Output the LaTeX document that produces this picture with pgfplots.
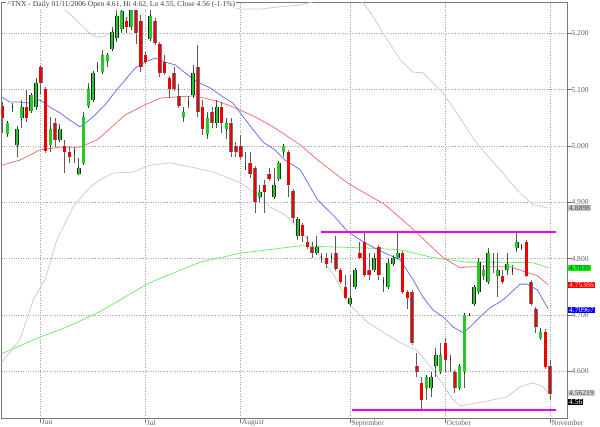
\documentclass[border=0pt]{standalone}
\usepackage{fontspec}
\setmainfont{Liberation Serif}
\usepackage{pgfplots}
\usepackage{pgfplotstable}
\pgfplotsset{compat=1.18}

\definecolor{upgreen}{RGB}{40,200,40}
\definecolor{downred}{RGB}{240,0,0}
\definecolor{wick}{RGB}{90,90,90}
\definecolor{ma20}{RGB}{110,110,255}
\definecolor{ma50}{RGB}{255,110,110}
\definecolor{ma200}{RGB}{110,240,110}
\definecolor{band}{RGB}{205,205,205}
\definecolor{level}{RGB}{240,0,240}
\definecolor{frame}{RGB}{120,120,120}
\definecolor{gridc}{RGB}{165,165,165}
\definecolor{lbl}{RGB}{100,100,100}
\newcommand\lab{\fontsize{7.6}{8}\selectfont}

% green (and doji) days: i open high low close
\pgfplotstableread{
i o h l c
1 5.021 5.044 5.016 5.041
2 5.069 5.076 5.060 5.069
3 5.002 5.036 4.981 5.030
4 5.050 5.082 5.032 5.069
6 5.062 5.094 5.060 5.091
7 5.069 5.121 5.064 5.112
10 5.002 5.052 4.989 5.030
12 5.011 5.039 5.009 5.030
15 4.989 4.998 4.970 4.989
16 4.951 4.979 4.949 4.961
17 4.970 5.060 4.970 5.052
18 5.071 5.112 5.069 5.101
19 5.082 5.131 5.082 5.130
20 5.140 5.149 5.131 5.140
21 5.131 5.170 5.131 5.161
22 5.151 5.161 5.140 5.161
23 5.172 5.211 5.172 5.202
24 5.192 5.241 5.185 5.231
25 5.208 5.245 5.200 5.239
27 5.211 5.245 5.206 5.241
31 5.190 5.241 5.188 5.231
38 5.052 5.069 5.043 5.060
39 5.076 5.089 5.068 5.076
40 5.091 5.144 5.085 5.130
43 5.021 5.060 5.013 5.050
45 5.041 5.082 5.032 5.069
47 5.030 5.050 5.013 5.041
51 4.961 4.989 4.958 4.961
54 4.910 4.931 4.901 4.919
57 4.910 4.961 4.910 4.931
58 4.942 4.970 4.940 4.970
59 4.989 5.000 4.981 5.000
62 4.841 4.871 4.833 4.871
66 4.810 4.841 4.810 4.821
67 4.802 4.810 4.793 4.802
69 4.802 4.810 4.793 4.802
73 4.720 4.771 4.720 4.731
74 4.750 4.780 4.750 4.780
78 4.780 4.810 4.780 4.802
80 4.759 4.768 4.741 4.759
81 4.750 4.802 4.748 4.793
82 4.791 4.807 4.787 4.802
83 4.802 4.849 4.802 4.810
89 4.571 4.591 4.550 4.591
90 4.571 4.599 4.555 4.591
91 4.610 4.642 4.591 4.630
92 4.599 4.651 4.599 4.630
94 4.621 4.630 4.599 4.621
96 4.571 4.610 4.571 4.610
97 4.599 4.701 4.571 4.701
98 4.701 4.702 4.699 4.701
99 4.720 4.750 4.720 4.750
100 4.741 4.802 4.741 4.794
101 4.770 4.789 4.763 4.780
102 4.759 4.819 4.759 4.810
103 4.793 4.810 4.775 4.793
104 4.770 4.810 4.732 4.780
106 4.780 4.810 4.771 4.791
107 4.780 4.789 4.771 4.780
108 4.819 4.849 4.812 4.830
109 4.821 4.826 4.816 4.821
113 4.660 4.677 4.656 4.670
}\upc

% red days
\pgfplotstableread{
i o h l c
0 5.071 5.078 5.023 5.050
5 5.069 5.099 5.043 5.050
8 5.140 5.144 5.092 5.112
9 5.101 5.101 4.989 4.991
11 5.041 5.050 4.998 5.011
13 5.000 5.011 4.952 4.989
14 4.989 4.998 4.970 4.981
26 5.222 5.229 5.200 5.211
28 5.241 5.245 5.181 5.200
29 5.222 5.232 5.131 5.140
30 5.161 5.167 5.149 5.149
32 5.222 5.227 5.179 5.183
33 5.181 5.181 5.122 5.130
34 5.149 5.161 5.130 5.130
35 5.121 5.121 5.085 5.101
36 5.130 5.140 5.099 5.101
37 5.089 5.110 5.069 5.071
41 5.140 5.179 5.052 5.060
42 5.069 5.082 5.020 5.030
44 5.060 5.069 5.032 5.041
46 5.069 5.078 5.023 5.041
48 5.041 5.050 4.981 4.989
49 5.000 5.007 4.981 4.989
50 5.000 5.020 4.981 4.981
52 4.970 4.989 4.943 4.951
53 4.961 4.961 4.881 4.901
55 4.931 4.940 4.881 4.919
56 4.951 4.961 4.940 4.942
60 4.989 4.989 4.910 4.931
61 4.920 4.920 4.864 4.872
63 4.860 4.860 4.830 4.841
64 4.830 4.841 4.821 4.821
65 4.821 4.830 4.802 4.810
68 4.802 4.810 4.784 4.791
70 4.810 4.841 4.780 4.782
71 4.780 4.780 4.759 4.759
72 4.750 4.771 4.731 4.731
75 4.810 4.830 4.802 4.802
76 4.830 4.849 4.771 4.771
77 4.780 4.810 4.763 4.771
79 4.821 4.821 4.763 4.771
84 4.810 4.810 4.741 4.741
85 4.741 4.741 4.711 4.731
86 4.741 4.741 4.651 4.651
87 4.610 4.633 4.591 4.599
88 4.580 4.591 4.532 4.550
93 4.651 4.660 4.599 4.621
95 4.599 4.599 4.562 4.571
105 4.770 4.780 4.755 4.759
110 4.830 4.830 4.768 4.770
111 4.759 4.759 4.720 4.720
112 4.711 4.711 4.669 4.679
114 4.670 4.676 4.608 4.608
115 4.610 4.620 4.550 4.560
}\downc

\pgfplotsset{
  wicks/.style={draw=none, mark=none, forget plot,
    error bars/.cd, y dir=plus, y explicit, error mark=none,
    error bar style={line width=0.9pt, draw=wick}},
  body edge/.style={draw=none, mark=none, forget plot,
    error bars/.cd, y dir=both, y explicit, error mark=-,
    error bar style={line width=3.6pt, draw=#1},
    error mark options={line width=0.9pt, mark size=1.8pt, draw=#1}},
  body fill/.style={draw=none, mark=none, forget plot,
    error bars/.cd, y dir=both, y explicit, error mark=none,
    error bar style={line width=2.6pt, draw=#1}},
}

\begin{document}
\begin{tikzpicture}
\useasboundingbox (0,0) rectangle (600pt,427pt);
\begin{axis}[
  at={(1.7pt,8.7pt)}, anchor=south west,
  scale only axis, width=565.6pt, height=416pt,
  xmin=-0.21, xmax=118.61, ymin=4.517, ymax=5.255,
  clip mode=individual,
  axis line style={draw=frame, line width=0.8pt},
  xtick={8,30,50,73,93,115},
  xticklabels={Jun,Jul,August,September,October,November},
  ytick={4.6,4.7,4.8,4.9,5.0,5.1,5.2},
  yticklabels={4.600,4.700,4.800,4.900,5.000,5.100,5.200},
  xtick pos=bottom, ytick pos=right, yticklabel pos=right,
  tick align=outside, major tick length=5pt,
  tick style={draw=frame, line width=0.6pt},
  xticklabel style={anchor=north west, inner sep=0pt, xshift=1pt, yshift=3.6pt, text=lbl, font=\lab},
  yticklabel style={anchor=west, inner sep=0pt, xshift=-1pt, text=lbl, font=\lab},
  grid=major, major grid style={dotted, draw=gridc, line width=0.6pt},
]

% bollinger bands
\addplot[band, line width=0.8pt] coordinates {
(5.7,5.330) (10.6,5.259) (14.8,5.229) (18.3,5.200) (19.8,5.193) (21.5,5.195)
(23.6,5.206) (26.1,5.227) (28.8,5.259) (33.1,5.303) (39.4,5.303) (44.2,5.259)
(47.1,5.247) (49.9,5.243) (54.1,5.243) (58.3,5.247) (62.5,5.250) (66.7,5.259)
(70.9,5.266) (74.0,5.264) (75.5,5.255) (77.2,5.238) (79.9,5.200) (83.5,5.153)
(86.2,5.131) (88.3,5.130) (92.5,5.094) (95.7,5.055) (98.8,5.014) (101.7,4.984)
(104.5,4.958) (106.6,4.936) (108.7,4.917) (111.4,4.896) (114.6,4.890)
};
\addplot[band, line width=0.8pt] coordinates {
(-0.6,4.612) (3.6,4.656) (6.4,4.727) (8.9,4.763) (11.4,4.834) (14.8,4.892)
(18.3,4.927) (20.4,4.940) (23.2,4.952) (27.4,4.954) (30.9,4.966) (35.1,4.970)
(39.4,4.963) (44.2,4.954) (49.9,4.935) (54.1,4.910) (56.2,4.892) (59.3,4.878)
(62.0,4.857) (66.2,4.810) (69.8,4.768) (72.5,4.722) (76.5,4.688) (79.9,4.670)
(83.5,4.651) (87.0,4.638) (90.4,4.603) (94.6,4.550) (96.1,4.539) (100.9,4.546)
(105.9,4.555) (108.7,4.573) (111.4,4.580) (113.5,4.573) (114.6,4.562)
};

% moving averages
\addplot[ma200, line width=0.8pt] coordinates {
(-0.6,4.630) (7.8,4.661) (13.5,4.679) (20.4,4.706) (30.1,4.754) (32.4,4.763)
(41.5,4.794) (49.9,4.810) (62.5,4.823) (69.4,4.821) (76.5,4.819) (83.5,4.816)
(90.4,4.802) (97.5,4.794) (104.5,4.794) (111.4,4.793) (114.6,4.784)
};
\addplot[ma50, line width=0.8pt] coordinates {
(-0.6,4.965) (3.6,4.975) (7.8,4.993) (12.0,4.998) (16.2,4.998) (19.8,5.011)
(21.5,5.023) (25.7,5.055) (29.9,5.073) (33.1,5.085) (36.2,5.087) (40.4,5.089)
(45.7,5.078) (49.9,5.064) (53.4,5.050) (56.8,5.034) (59.3,5.020) (62.5,5.002)
(66.2,4.975) (72.5,4.934) (80.3,4.896) (85.6,4.857) (92.5,4.802) (96.1,4.784)
(98.2,4.786) (102.4,4.786) (106.6,4.786) (109.3,4.778) (112.3,4.770) (114.6,4.754)
};
\addplot[ma20, line width=0.8pt] coordinates {
(-0.6,5.089) (1.5,5.078) (3.6,5.078) (5.7,5.076) (7.8,5.082) (9.9,5.069)
(12.0,5.059) (14.1,5.046) (16.2,5.034) (17.7,5.043) (19.4,5.055) (20.4,5.064)
(21.5,5.073) (23.6,5.096) (25.7,5.117) (27.8,5.138) (29.9,5.149) (32.0,5.156)
(34.1,5.149) (36.2,5.144) (38.3,5.130) (40.8,5.114) (43.6,5.103) (46.3,5.087)
(48.4,5.076) (50.5,5.052) (52.6,5.029) (54.7,5.007) (57.2,4.993) (59.3,4.975)
(62.5,4.958) (66.2,4.904) (69.8,4.874) (72.5,4.848) (76.1,4.828) (80.3,4.810)
(83.5,4.798) (86.2,4.763) (88.3,4.732) (90.4,4.709) (92.5,4.697) (94.6,4.679)
(96.7,4.669) (98.2,4.679) (100.3,4.697) (102.4,4.713) (105.1,4.727) (108.7,4.755)
(110.1,4.755) (112.3,4.745) (114.6,4.711)
};

% candles
\addplot[wicks] table[x=i, y=l, y error plus expr={\thisrow{h}-\thisrow{l}}] {\upc};
\addplot[wicks] table[x=i, y=l, y error plus expr={\thisrow{h}-\thisrow{l}}] {\downc};
\addplot[body edge={black!85}] table[x=i, y expr={(\thisrow{o}+\thisrow{c})/2}, y error expr={abs(\thisrow{c}-\thisrow{o})/2}] {\upc};
\addplot[body edge={black!55}] table[x=i, y expr={(\thisrow{o}+\thisrow{c})/2}, y error expr={abs(\thisrow{c}-\thisrow{o})/2}] {\downc};
\addplot[body fill=upgreen] table[x=i, y expr={(\thisrow{o}+\thisrow{c})/2}, y error expr={abs(\thisrow{c}-\thisrow{o})/2}] {\upc};
\addplot[body fill=downred] table[x=i, y expr={(\thisrow{o}+\thisrow{c})/2}, y error expr={abs(\thisrow{c}-\thisrow{o})/2}] {\downc};

% support / resistance
\addplot[level, line width=1.8pt] coordinates {(66.9,4.848) (116.2,4.848)};
\addplot[level, line width=1.8pt] coordinates {(73.4,4.532) (116.2,4.532)};

% title and last values
\node[anchor=base west, xshift=4.5pt, yshift=-4.6pt, fill=white, inner sep=1pt, font=\lab, text=black!75]
  at (rel axis cs:0,1) {\textasciicircum TNX - Daily 01/11/2006 Open 4.61, Hi 4.62, Lo 4.55, Close 4.56 (-1.1\%)};
\tikzset{lastval/.style={anchor=west, xshift=0.6pt, inner xsep=1pt, inner ysep=0.6pt, font=\lab}}
\node[lastval, fill=black!22, text=black!70] at (axis cs:118.61,4.8898) {4.8898};
\node[lastval, fill={rgb,255:red,0;green,255;blue,0}, text=black!80] at (axis cs:118.61,4.7835) {4.7835};
\node[lastval, fill=red, text=red!15] at (axis cs:118.61,4.75386) {4.75386};
\node[lastval, fill=blue, text=white] at (axis cs:118.61,4.70967) {4.70967};
\node[lastval, fill=black!18, text=black!70] at (axis cs:118.61,4.56219) {4.56219};
\node[lastval, fill=black, text=white] at (axis cs:118.61,4.5455) {4.56};
\end{axis}
\end{tikzpicture}
\end{document}
